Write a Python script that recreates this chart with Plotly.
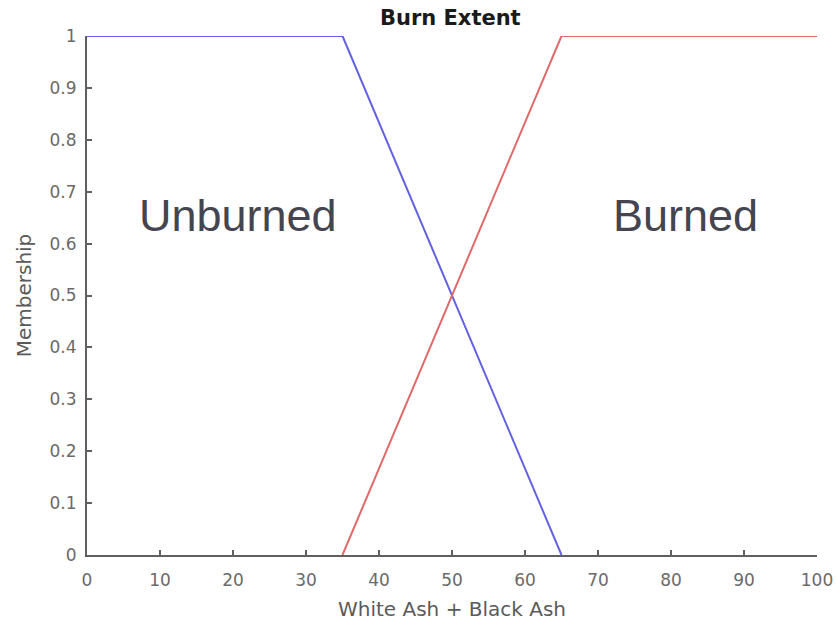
import plotly.graph_objects as go

unburned_x = [0, 35, 65]
unburned_y = [1, 1, 0]
burned_x = [35, 65, 100]
burned_y = [0, 1, 1]
x_ticks = [0, 10, 20, 30, 40, 50, 60, 70, 80, 90, 100]
y_ticks = [0, 0.1, 0.2, 0.3, 0.4, 0.5, 0.6, 0.7, 0.8, 0.9, 1]
labels = ["Unburned", "Burned"]
label_x = [20.7, 82]
label_y = [0.655, 0.655]

FONT = "DejaVu Sans, Arial"

fig = go.Figure()
fig.add_trace(go.Scatter(x=unburned_x, y=unburned_y, mode="lines",
                         line=dict(color="#6262e2", width=2), showlegend=False))
fig.add_trace(go.Scatter(x=burned_x, y=burned_y, mode="lines",
                         line=dict(color="#e06a6a", width=2), showlegend=False))

for t, xx, yy in zip(labels, label_x, label_y):
    fig.add_annotation(x=xx, y=yy, text=t, showarrow=False,
                       font=dict(family="Liberation Sans, Arial", size=45, color="#45454f"))

axis_common = dict(showgrid=False, zeroline=False, showline=True, linecolor="#606060",
                   linewidth=2, ticks="inside", ticklen=5, tickcolor="#606060", tickwidth=1.5,
                   tickfont=dict(family=FONT, size=17, color="#6a6a6a"))

fig.update_layout(
    width=837, height=622,
    margin=dict(l=87, r=20, t=36, b=67, autoexpand=False),
    paper_bgcolor="white", plot_bgcolor="white",
    title=dict(text="<b>Burn Extent</b>", x=0.538, xanchor="center",
               y=1 - 18 / 622, yanchor="middle",
               font=dict(family=FONT, size=21, color="#1a1a1a")),
    xaxis=dict(range=[0, 100], tickvals=x_ticks, ticklabelstandoff=9,
               title=dict(text="White Ash + Black Ash", standoff=13,
               font=dict(family=FONT, size=20, color="#5a5a5a")), **axis_common),
    yaxis=dict(range=[0, 1], tickvals=y_ticks, ticktext=[f"{v:g}" for v in y_ticks],
               ticklabelstandoff=5,
               title=dict(text="Membership", standoff=13,
               font=dict(family=FONT, size=20, color="#5a5a5a")), **axis_common),
)

fig.write_html("out.html", config={"displayModeBar": False},
               post_script="document.body.style.margin='0';")
